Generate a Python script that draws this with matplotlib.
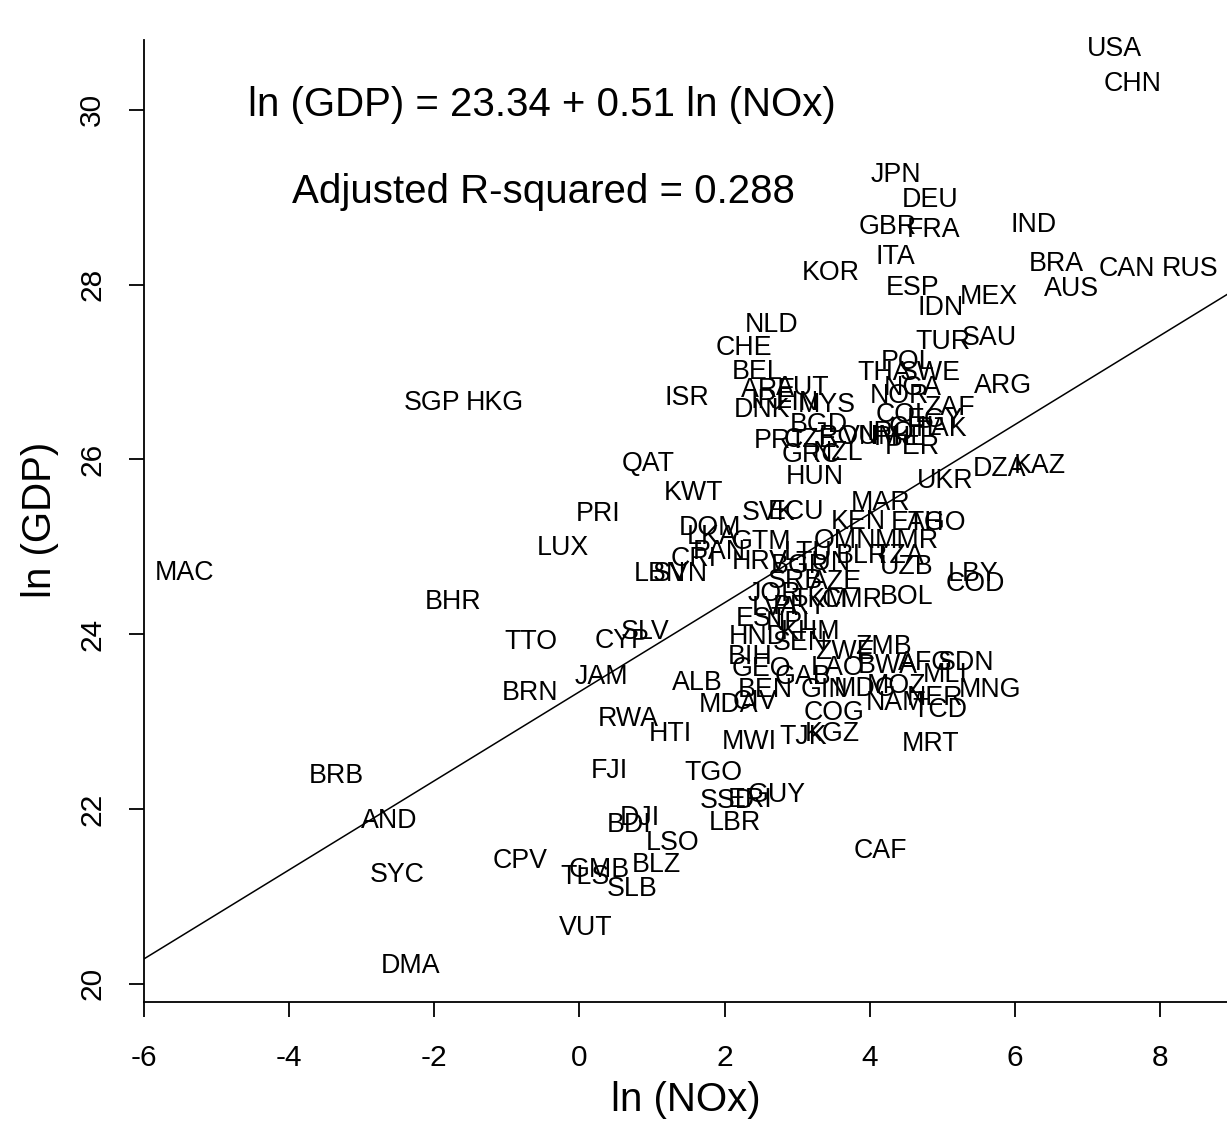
import matplotlib
matplotlib.use("Agg")
import matplotlib.pyplot as plt
import numpy as np

plt.rcParams['font.family'] = ['Liberation Sans', 'DejaVu Sans']

countries = ["USA","CHN","JPN","DEU","GBR","FRA","IND","ITA","BRA","CAN","RUS","KOR","ESP","AUS","MEX","IDN",
             "NLD","SAU","TUR","CHE","POL","THA","SWE","NGA","BEL","ARE","AUT","ISR","SGP","HKG","ARG","IRL",
             "FIN","MYS","DNK","NOR","ZAF","COL","EGY","PAK","CHL","PHL","PER","BGD","PRT","CZE","ROU","VNM",
             "IRQ","GRC","NZL","HUN","UKR","DZA","KAZ","QAT","KWT","MAR","PRI","SVK","ECU","KEN","ETH","AGO",
             "DOM","LKA","GTM","OMN","MMR","LUX","PAN","CRI","HRV","BLR","TZA","LTU","BGR","TUN","LBN","SVN",
             "UZB","LBY","COD","SRB","AZE","JOR","CMR","TKM","BOL","MAC","BHR","TTO","CYP","SLV","JAM","BRN",
             "ALB","MDA","CIV","RWA","HTI","MWI","TJK","KGZ","MRT","COG","LVA","PRY","EST","NPL","HND","SEN",
             "KHM","ZWE","ZMB","BIH","GEO","GAB","LAO","BWA","AFG","SDN","MLI","BEN","GIN","MDG","MOZ","NAM",
             "NER","TCD","MNG","FJI","TGO","SSD","ERI","GUY","DJI","BDI","LBR","LSO","CAF","BLZ","CPV","GMB",
             "TLS","SLB","SYC","AND","BRB","VUT","DMA"]

ln_nox = [7.36,7.61,4.36,4.83,4.24,4.87,6.25,4.35,6.56,7.53,8.41,3.46,4.59,6.77,5.64,4.97,
          2.65,5.64,5.01,2.27,4.52,4.19,4.83,4.59,2.45,2.60,3.08,1.48,-2.03,-1.17,5.83,2.65,
          3.00,3.40,2.51,4.41,5.10,4.46,4.90,4.99,4.62,4.41,4.58,3.29,2.76,3.18,3.70,4.03,
          4.28,3.20,3.56,3.24,5.03,5.79,6.34,0.95,1.57,4.15,0.26,2.61,2.98,3.84,4.66,4.92,
          1.80,1.83,2.51,3.66,4.51,-0.22,1.92,1.58,2.49,3.89,4.39,3.15,3.04,3.35,1.11,1.39,
          4.50,5.42,5.45,2.97,3.53,2.69,3.75,3.31,4.51,-5.44,-1.74,-0.67,0.59,0.90,0.31,-0.68,
          1.62,2.05,2.42,0.68,1.25,2.34,3.08,3.48,4.83,3.51,2.69,3.04,2.51,2.93,2.46,3.04,
          3.18,3.66,4.18,2.35,2.51,3.08,3.56,4.24,4.76,5.32,5.03,2.56,3.38,3.93,4.37,4.35,
          4.90,4.97,5.65,0.41,1.84,2.03,2.35,2.71,0.84,0.68,2.14,1.28,4.15,1.06,-0.82,0.28,
          0.08,0.73,-2.51,-2.62,-3.35,0.09,-2.32]

ln_gdp = [30.70,30.30,29.26,28.97,28.66,28.63,28.68,28.32,28.24,28.18,28.18,28.13,27.96,27.95,27.86,27.73,
          27.54,27.39,27.34,27.28,27.12,26.99,26.99,26.82,27.00,26.80,26.82,26.70,26.64,26.64,26.84,26.67,
          26.64,26.62,26.57,26.72,26.59,26.51,26.45,26.35,26.36,26.25,26.14,26.39,26.21,26.22,26.26,26.26,
          26.30,26.05,26.07,25.80,25.75,25.89,25.93,25.95,25.62,25.50,25.38,25.39,25.40,25.28,25.27,25.27,
          25.22,25.11,25.06,25.07,25.07,24.99,24.94,24.86,24.83,24.90,24.90,24.93,24.78,24.82,24.69,24.69,
          24.77,24.69,24.57,24.61,24.60,24.46,24.39,24.39,24.43,24.70,24.37,23.91,23.92,24.03,23.51,23.33,
          23.44,23.19,23.22,23.03,22.86,22.76,22.82,22.86,22.74,23.10,24.30,24.31,24.17,24.13,23.97,23.90,
          24.03,23.80,23.85,23.74,23.60,23.51,23.61,23.63,23.67,23.67,23.53,23.36,23.36,23.37,23.41,23.21,
          23.27,23.13,23.36,22.43,22.41,22.09,22.10,22.16,21.90,21.82,21.84,21.61,21.52,21.36,21.40,21.30,
          21.22,21.08,21.24,21.86,22.38,20.64,20.20]

intercept = 23.34
slope = 0.51
adj_r2 = 0.288

x_ticks = [-6, -4, -2, 0, 2, 4, 6, 8]
y_ticks = [20, 22, 24, 26, 28, 30]

W, H = 1227, 1137
fig = plt.figure(figsize=(W/100, H/100), dpi=100)
L, R, B, T = 143.5, 1227, 1002, 40
ax = fig.add_axes([L/W, 1 - B/H, (R-L)/W, (B-T)/H])
ax.set_xlim(-6, 8.916)
ax.set_ylim(19.79, 30.80)

for name, xv, yv in zip(countries, ln_nox, ln_gdp):
    ax.text(xv, yv, name, ha='center', va='center', fontsize=19.3, color='black')

xx = np.array([-6, 8.916])
ax.plot(xx, intercept + slope*xx, color='black', lw=1.1)

ax.text(-0.51, 30.06, "ln (GDP) = %.2f + %.2f ln (NOx)" % (intercept, slope),
        ha='center', va='center', fontsize=29)
ax.text(-0.50, 29.06, "Adjusted R-squared = %.3f" % adj_r2,
        ha='center', va='center', fontsize=29)

ax.spines['top'].set_visible(False)
ax.spines['right'].set_visible(False)
for s in ['left', 'bottom']:
    ax.spines[s].set_linewidth(1.3)
ax.set_xticks(x_ticks)
ax.set_yticks(y_ticks)
ax.set_xticklabels([str(v) for v in x_ticks])
ax.set_yticklabels([str(v) for v in y_ticks], rotation=90, va='center')
ax.tick_params(axis='both', direction='out', length=11, width=1.3, labelsize=21.5)
ax.tick_params(axis='x', pad=19)
ax.tick_params(axis='y', pad=16)

fig.text(686/W, 1 - 1100/H, "ln (NOx)", ha='center', va='center', fontsize=29)
fig.text(40/W, 1 - 520/H, "ln (GDP)", ha='center', va='center', fontsize=29, rotation=90)

fig.savefig("out.png", dpi=100)
